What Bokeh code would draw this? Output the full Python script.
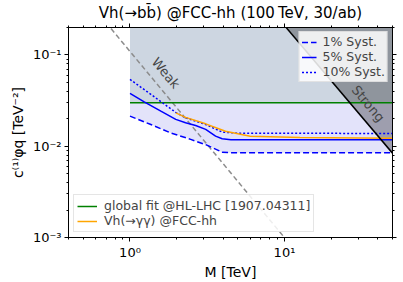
import math
from bokeh.plotting import figure
from bokeh.models import (Legend, LegendItem, Label, LogAxis, FixedTicker,
                          CustomJSTickFormatter, Range1d)
from bokeh.embed import file_html
from bokeh.resources import INLINE

# ---------------- data ----------------
M_1pct = [1.0, 1.365, 1.836, 2.47, 3.09, 3.95, 4.5, 50.0]
c_1pct = [0.0214, 0.0173, 0.0140, 0.0119, 0.0104, 0.0086, 0.0085, 0.0085]

M_5pct = [1.0, 1.236, 1.584, 1.978, 2.29, 2.66, 3.09, 3.58, 3.95, 4.5, 50.0]
c_5pct = [0.038, 0.0307, 0.0242, 0.0197, 0.0181, 0.0169, 0.0153, 0.0129, 0.0121, 0.0118, 0.0118]

M_10pct = [1.0, 1.365, 1.978, 2.29, 3.09, 3.95, 5.0, 50.0]
c_10pct = [0.054, 0.037, 0.0235, 0.0205, 0.0173, 0.0143, 0.0139, 0.0138]

M_gamma = [1.98, 2.29, 3.09, 4.15, 6.0, 12.6, 50.0]
c_gamma = [0.0232, 0.0207, 0.0176, 0.0146, 0.0129, 0.0125, 0.0122]

M_global = [1.0, 50.0]
c_global = [0.03, 0.03]

M_weak = [0.6, 11.0]
c_weak = [0.31, 0.00082]

M_strong = [10.0, 50.0]
c_strong = [0.21, 0.0084]

x_major = [1, 10]
y_major = [0.001, 0.01, 0.1]

legend_top_labels = ["1% Syst.", "5% Syst.", "10% Syst."]
legend_bottom_labels = ["global fit @HL-LHC [1907.04311]", "Vh(\u2192\u03b3\u03b3) @FCC-hh"]

title_text = "Vh(\u2192bb\u0304) @FCC-hh (100\u2009TeV, 30/ab)"
x_label = "M [TeV]"
y_label = "c\u207d\u00b9\u207e\u03c6q [TeV\u207b\u00b2]"

X0, X1 = 0.4, 50.0
Y0, Y1 = 0.001, 0.2

FONT = "DejaVu Sans"

p = figure(width=403, height=282, x_axis_type="log", y_axis_type="log",
           x_range=Range1d(X0, X1), y_range=Range1d(Y0, Y1),
           output_backend="svg", toolbar_location=None,
           min_border_left=68, min_border_right=11, min_border_top=27,
           min_border_bottom=44)
p.xgrid.visible = False
p.ygrid.visible = False
p.outline_line_color = "black"
p.outline_line_width = 1
p.background_fill_color = "white"
p.border_fill_color = "white"

p.title.text = title_text
p.title.align = "center"
p.title.text_font = FONT
p.title.text_font_size = "15px"
p.title.text_font_style = "normal"
p.title.text_color = "black"
p.title.standoff = 3

x_minor = [m * 10.0 ** e for e in (-1, 0, 1) for m in range(2, 10) if X0 <= m * 10.0 ** e <= X1]
y_minor = [m * 10.0 ** e for e in (-3, -2, -1) for m in range(2, 10) if Y0 <= m * 10.0 ** e <= Y1]

sup_js = """
const sup = {"-": "\u207b", "0": "\u2070", "1": "\u00b9", "2": "\u00b2", "3": "\u00b3",
             "4": "\u2074", "5": "\u2075", "6": "\u2076", "7": "\u2077", "8": "\u2078", "9": "\u2079"};
const e = Math.round(Math.log10(tick));
return "10" + String(e).split("").map(c => sup[c]).join("");
"""
fmt = CustomJSTickFormatter(code=sup_js)
blank = CustomJSTickFormatter(code="return '';")


def style_axis(ax, labels=True):
    ax.axis_line_color = "black"
    ax.major_tick_line_color = "black"
    ax.minor_tick_line_color = "black"
    ax.major_tick_out = 4
    ax.major_tick_in = 0
    ax.minor_tick_out = 2
    ax.minor_tick_in = 0
    ax.major_label_text_font = FONT
    ax.major_label_text_font_size = "13px"
    ax.major_label_text_color = "black"
    ax.major_label_standoff = 3 if labels else 0
    ax.axis_label_text_font = FONT
    ax.axis_label_text_font_size = "14px"
    ax.axis_label_text_font_style = "normal"
    ax.axis_label_text_color = "black"
    ax.axis_label_standoff = 4


p.xaxis.ticker = FixedTicker(ticks=x_major, minor_ticks=x_minor)
p.yaxis.ticker = FixedTicker(ticks=y_major, minor_ticks=y_minor)
p.xaxis.formatter = fmt
p.yaxis.formatter = fmt
style_axis(p.xaxis[0])
style_axis(p.yaxis[0])
p.xaxis.axis_label = x_label
p.yaxis.axis_label = y_label
p.xaxis.axis_label_standoff = 1

top_ax = LogAxis(ticker=FixedTicker(ticks=x_major, minor_ticks=x_minor), formatter=blank)
right_ax = LogAxis(ticker=FixedTicker(ticks=y_major, minor_ticks=y_minor), formatter=blank)
style_axis(top_ax, labels=False)
style_axis(right_ax, labels=False)
p.add_layout(top_ax, "above")
p.add_layout(right_ax, "right")

# ---------------- shaded regions ----------------
p.quad(left=[M_global[0]], right=[M_global[-1]], bottom=[c_global[0]], top=[Y1 * 1.2],
       fill_color="#cdd6e1", line_color=None)
p.varea(x=M_1pct, y1=c_1pct, y2=[c_global[0]] * len(M_1pct),
        fill_color="#e3e3fa")
p.patch(x=[M_strong[0], M_strong[1], M_strong[1]],
        y=[c_strong[0], c_strong[1], c_strong[0]],
        fill_color="black", fill_alpha=0.3, line_color=None)

# ---------------- lines ----------------
p.line(M_weak, c_weak, line_color="#8c8c8c", line_width=1.5, line_dash="5 3")
r_green = p.line(M_global, c_global, line_color="#008000", line_width=1.5)
r_1 = p.line(M_1pct, c_1pct, line_color="blue", line_width=1.5, line_dash="6 3")
r_5 = p.line(M_5pct, c_5pct, line_color="blue", line_width=1.5)
r_10 = p.line(M_10pct, c_10pct, line_color="blue", line_width=1.5, line_dash="2 2")
r_gamma = p.line(M_gamma, c_gamma, line_color="orange", line_width=1.5)
p.line(M_strong, c_strong, line_color="black", line_width=1.5)

ang = -0.87
p.add_layout(Label(x=1.705, y=0.0634, text="Weak", angle=ang, text_align="center",
                   text_baseline="middle", text_font=FONT, text_font_size="13px"))
p.add_layout(Label(x=34.8, y=0.0292, text="Strong", angle=ang, text_align="center",
                   text_baseline="middle", text_font=FONT, text_font_size="13px"))

# ---------------- legends ----------------
leg_top = Legend(items=[LegendItem(label=legend_top_labels[0], renderers=[r_1]),
                        LegendItem(label=legend_top_labels[1], renderers=[r_5]),
                        LegendItem(label=legend_top_labels[2], renderers=[r_10])],
                 location="top_right")
leg_bot = Legend(items=[LegendItem(label=legend_bottom_labels[0], renderers=[r_green]),
                        LegendItem(label=legend_bottom_labels[1], renderers=[r_gamma])],
                 location="bottom_left")
for lg, gw, fs, mg, pad, so in ((leg_top, 15, "12.5px", 4, 2, 6),
                                (leg_bot, 20, "12.5px", 5, 3, 7)):
    lg.label_text_font = FONT
    lg.label_text_font_size = fs
    lg.label_height = 12
    lg.glyph_height = 12
    lg.glyph_width = gw
    lg.label_standoff = so
    lg.padding = pad
    lg.spacing = 0
    lg.margin = mg
    lg.border_line_color = "#cccccc"
    lg.border_line_width = 1
    lg.background_fill_color = "white"
    lg.background_fill_alpha = 0.85
    p.add_layout(lg)

open("out.html", "w").write(file_html(p, INLINE))
